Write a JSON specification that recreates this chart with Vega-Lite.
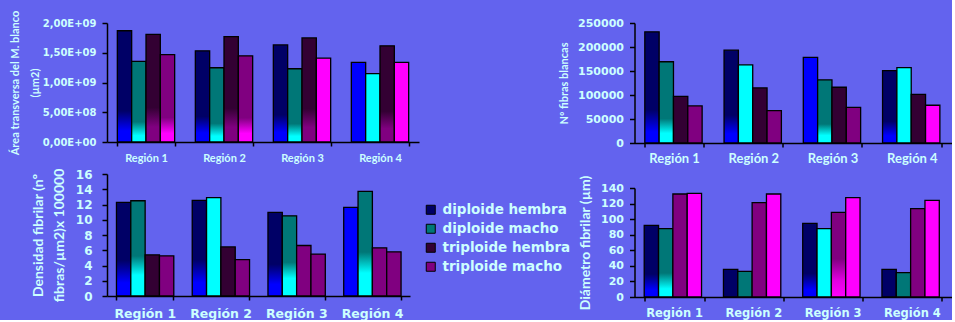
{
  "$schema": "https://vega.github.io/schema/vega-lite/v6.json",
  "background": "#6363EE",
  "padding": {"left": 9, "top": 10, "right": 0, "bottom": 0},
  "config": {
    "view": {"stroke": null},
    "font": "Lato",
    "axis": {"domainColor": "#000000", "domainWidth": 1.5, "tickColor": "#000000", "tickWidth": 1.5, "labelColor": "#CCFFFF", "titleColor": "#CCFFFF", "labelFontWeight": "bold", "titleFontWeight": "bold", "grid": false, "labelFont": "DejaVu Sans", "titleFont": "Lato"}
  },
  "datasets": {
    "area": [
      {"region": "Región 1", "serie": "diploide hembra", "valor": 1870000000},
      {"region": "Región 1", "serie": "diploide macho", "valor": 1356000000},
      {"region": "Región 1", "serie": "triploide hembra", "valor": 1808000000},
      {"region": "Región 1", "serie": "triploide macho", "valor": 1470000000},
      {"region": "Región 2", "serie": "diploide hembra", "valor": 1532000000},
      {"region": "Región 2", "serie": "diploide macho", "valor": 1248000000},
      {"region": "Región 2", "serie": "triploide hembra", "valor": 1772000000},
      {"region": "Región 2", "serie": "triploide macho", "valor": 1448000000},
      {"region": "Región 3", "serie": "diploide hembra", "valor": 1632000000},
      {"region": "Región 3", "serie": "diploide macho", "valor": 1231000000},
      {"region": "Región 3", "serie": "triploide hembra", "valor": 1749000000},
      {"region": "Región 3", "serie": "triploide macho", "valor": 1409000000},
      {"region": "Región 4", "serie": "diploide hembra", "valor": 1337000000},
      {"region": "Región 4", "serie": "diploide macho", "valor": 1148000000},
      {"region": "Región 4", "serie": "triploide hembra", "valor": 1616000000},
      {"region": "Región 4", "serie": "triploide macho", "valor": 1337000000}
    ],
    "fibras": [
      {"region": "Región 1", "serie": "diploide hembra", "valor": 231600},
      {"region": "Región 1", "serie": "diploide macho", "valor": 169300},
      {"region": "Región 1", "serie": "triploide hembra", "valor": 97000},
      {"region": "Región 1", "serie": "triploide macho", "valor": 77200},
      {"region": "Región 2", "serie": "diploide hembra", "valor": 193300},
      {"region": "Región 2", "serie": "diploide macho", "valor": 162900},
      {"region": "Región 2", "serie": "triploide hembra", "valor": 114700},
      {"region": "Región 2", "serie": "triploide macho", "valor": 67300},
      {"region": "Región 3", "serie": "diploide hembra", "valor": 178500},
      {"region": "Región 3", "serie": "diploide macho", "valor": 131700},
      {"region": "Región 3", "serie": "triploide hembra", "valor": 116100},
      {"region": "Región 3", "serie": "triploide macho", "valor": 74400},
      {"region": "Región 4", "serie": "diploide hembra", "valor": 150800},
      {"region": "Región 4", "serie": "diploide macho", "valor": 157200},
      {"region": "Región 4", "serie": "triploide hembra", "valor": 101300},
      {"region": "Región 4", "serie": "triploide macho", "valor": 78600}
    ],
    "densidad": [
      {"region": "Región 1", "serie": "diploide hembra", "valor": 12.27},
      {"region": "Región 1", "serie": "diploide macho", "valor": 12.49},
      {"region": "Región 1", "serie": "triploide hembra", "valor": 5.39},
      {"region": "Región 1", "serie": "triploide macho", "valor": 5.26},
      {"region": "Región 2", "serie": "diploide hembra", "valor": 12.54},
      {"region": "Región 2", "serie": "diploide macho", "valor": 12.89},
      {"region": "Región 2", "serie": "triploide hembra", "valor": 6.44},
      {"region": "Región 2", "serie": "triploide macho", "valor": 4.78},
      {"region": "Región 3", "serie": "diploide hembra", "valor": 10.96},
      {"region": "Región 3", "serie": "diploide macho", "valor": 10.52},
      {"region": "Región 3", "serie": "triploide hembra", "valor": 6.62},
      {"region": "Región 3", "serie": "triploide macho", "valor": 5.48},
      {"region": "Región 4", "serie": "diploide hembra", "valor": 11.62},
      {"region": "Región 4", "serie": "diploide macho", "valor": 13.72},
      {"region": "Región 4", "serie": "triploide hembra", "valor": 6.31},
      {"region": "Región 4", "serie": "triploide macho", "valor": 5.79}
    ],
    "diametro": [
      {"region": "Región 1", "serie": "diploide hembra", "valor": 92.0},
      {"region": "Región 1", "serie": "diploide macho", "valor": 87.8},
      {"region": "Región 1", "serie": "triploide hembra", "valor": 132.3},
      {"region": "Región 1", "serie": "triploide macho", "valor": 133.1},
      {"region": "Región 2", "serie": "diploide hembra", "valor": 35.5},
      {"region": "Región 2", "serie": "diploide macho", "valor": 33.0},
      {"region": "Región 2", "serie": "triploide hembra", "valor": 121.2},
      {"region": "Región 2", "serie": "triploide macho", "valor": 132.3},
      {"region": "Región 3", "serie": "diploide hembra", "valor": 94.6},
      {"region": "Región 3", "serie": "diploide macho", "valor": 87.8},
      {"region": "Región 3", "serie": "triploide hembra", "valor": 108.7},
      {"region": "Región 3", "serie": "triploide macho", "valor": 127.6},
      {"region": "Región 4", "serie": "diploide hembra", "valor": 35.5},
      {"region": "Región 4", "serie": "diploide macho", "valor": 31.3},
      {"region": "Región 4", "serie": "triploide hembra", "valor": 113.5},
      {"region": "Región 4", "serie": "triploide macho", "valor": 124.2}
    ]
  },
  "bounds": "flush",
  "spacing": 527.5,
  "hconcat": [
    {
      "bounds": "flush",
      "spacing": 32,
      "vconcat": [
        {
          "width": 312, "height": 119,
          "data": {"name": "area"},
          "mark": {"type": "bar", "stroke": "#000000", "strokeWidth": 1.3},
          "encoding": {
            "x": {"field": "region", "type": "nominal", "scale": {"paddingInner": 0.265, "paddingOuter": 0.1325}, "axis": {"title": null, "labelAngle": 0, "labelFont": "Lato", "labelFontSize": 11, "labelPadding": 6, "tickBand": "extent", "tickSize": 4}},
            "xOffset": {"field": "serie", "type": "nominal", "scale": {"domain": ["diploide hembra", "diploide macho", "triploide hembra", "triploide macho"], "paddingInner": 0, "paddingOuter": 0}},
            "y": {"field": "valor", "type": "quantitative", "scale": {"domain": [0, 2000000000], "nice": false}, "axis": {"values": [0, 500000000, 1000000000, 1500000000, 2000000000], "labelExpr": "replace(replace(format(datum.value, '.2e'), '.', ','), 'e+', 'E+0')", "title": ["Área transversa del M. blanco", "(µm2)"], "titleFontSize": 11, "titleLineHeight": 20, "titlePadding": 2, "labelFontSize": 10, "labelPadding": 6, "tickSize": 5}},
            "fill": {
              "condition": [
                {"test": "datum.serie=='diploide hembra'&&datum.region=='Región 4'", "value": "#0000FF"},
                {"test": "datum.serie=='diploide macho'&&datum.region=='Región 4'", "value": "#00FFFF"},
                {"test": "datum.serie=='triploide macho'&&(datum.region=='Región 3'||datum.region=='Región 4')", "value": "#FF00FF"},
                {"test": "datum.serie=='diploide hembra'", "value": {"gradient": "linear", "x1": 0, "y1": 0, "x2": 0, "y2": 1, "stops": [{"offset": 0, "color": "#000066"}, {"offset": 0.72, "color": "#000066"}, {"offset": 0.9, "color": "#0000FF"}, {"offset": 1, "color": "#0000FF"}]}},
                {"test": "datum.serie=='diploide macho'", "value": {"gradient": "linear", "x1": 0, "y1": 0, "x2": 0, "y2": 1, "stops": [{"offset": 0, "color": "#007777"}, {"offset": 0.75, "color": "#007777"}, {"offset": 0.92, "color": "#00FFFF"}, {"offset": 1, "color": "#00FFFF"}]}},
                {"test": "datum.serie=='triploide hembra'", "value": {"gradient": "linear", "x1": 0, "y1": 0, "x2": 0, "y2": 1, "stops": [{"offset": 0, "color": "#330033"}, {"offset": 0.68, "color": "#330033"}, {"offset": 0.86, "color": "#800080"}, {"offset": 1, "color": "#800080"}]}}
              ],
              "value": {"gradient": "linear", "x1": 0, "y1": 0, "x2": 0, "y2": 1, "stops": [{"offset": 0, "color": "#800080"}, {"offset": 0.72, "color": "#800080"}, {"offset": 0.9, "color": "#FF00FF"}, {"offset": 1, "color": "#FF00FF"}]}
            }
          }
        },
        {
          "width": 303, "height": 122,
          "data": {"name": "densidad"},
          "encoding": {
            "x": {"field": "region", "type": "nominal", "scale": {"paddingInner": 0.25, "paddingOuter": 0.125}, "axis": {"title": null, "labelAngle": 0, "labelFontSize": 12.5, "labelPadding": 7, "tickBand": "extent", "tickSize": 4}},
            "xOffset": {"field": "serie", "type": "nominal", "scale": {"domain": ["diploide hembra", "diploide macho", "triploide hembra", "triploide macho"], "paddingInner": 0, "paddingOuter": 0}},
            "y": {"field": "valor", "type": "quantitative", "scale": {"domain": [0, 16], "nice": false}, "axis": {"values": [0, 2, 4, 6, 8, 10, 12, 14, 16], "title": ["Densidad fibrilar (nº", "fibras/µm2)x 100000"], "titleFontSize": 14, "titleLineHeight": 21, "titlePadding": 9, "labelFontSize": 12, "labelPadding": 10, "tickSize": 5}}
          },
          "layer": [
            {
              "mark": {"type": "bar"},
              "encoding": {
                "color": {"field": "serie", "type": "nominal", "scale": {"domain": ["diploide hembra", "diploide macho", "triploide hembra", "triploide macho"], "range": ["#000066", "#007777", "#330033", "#800080"]}, "legend": {"title": null, "orient": "none", "legendX": 317, "legendY": 180, "symbolType": "square", "symbolSize": 81, "symbolStrokeColor": "#000000", "symbolStrokeWidth": 1, "symbolOpacity": 1, "labelFont": "DejaVu Sans", "labelFontSize": 13.5, "labelFontWeight": "bold", "labelColor": "#CCFFFF", "rowPadding": 4, "labelOffset": 5, "padding": 0, "labelLimit": 300}}
              }
            },
            {
              "mark": {"type": "bar", "stroke": "#000000", "strokeWidth": 1.3},
              "encoding": {
                "fill": {
                  "condition": [
                    {"test": "datum.serie=='diploide hembra'&&datum.region=='Región 4'", "value": "#0000FF"},
                    {"test": "datum.serie=='diploide macho'&&datum.region=='Región 2'", "value": "#00FFFF"},
                    {"test": "datum.serie=='triploide hembra'&&(datum.region=='Región 1'||datum.region=='Región 2')", "value": "#330033"},
                    {"test": "datum.serie=='triploide hembra'||datum.serie=='triploide macho'", "value": "#800080"},
                    {"test": "datum.serie=='diploide hembra'", "value": {"gradient": "linear", "x1": 0, "y1": 0, "x2": 0, "y2": 1, "stops": [{"offset": 0, "color": "#000066"}, {"offset": 0.62, "color": "#000066"}, {"offset": 0.86, "color": "#0000FF"}, {"offset": 1, "color": "#0000FF"}]}}
                  ],
                  "value": {"gradient": "linear", "x1": 0, "y1": 0, "x2": 0, "y2": 1, "stops": [{"offset": 0, "color": "#007777"}, {"offset": 0.58, "color": "#007777"}, {"offset": 0.78, "color": "#00FFFF"}, {"offset": 1, "color": "#00FFFF"}]}
                }
              }
            }
          ]
        }
      ]
    },
    {
      "bounds": "flush",
      "spacing": 45,
      "vconcat": [
        {
          "width": 317, "height": 120,
          "data": {"name": "fibras"},
          "mark": {"type": "bar", "stroke": "#000000", "strokeWidth": 1.3},
          "encoding": {
            "x": {"field": "region", "type": "nominal", "scale": {"paddingInner": 0.26, "paddingOuter": 0.13}, "axis": {"title": null, "labelAngle": 0, "labelFont": "Lato", "labelFontSize": 13, "labelPadding": 5, "tickBand": "extent", "tickSize": 4}},
            "xOffset": {"field": "serie", "type": "nominal", "scale": {"domain": ["diploide hembra", "diploide macho", "triploide hembra", "triploide macho"], "paddingInner": 0, "paddingOuter": 0}},
            "y": {"field": "valor", "type": "quantitative", "scale": {"domain": [0, 250000], "nice": false}, "axis": {"values": [0, 50000, 100000, 150000, 200000, 250000], "format": "d", "title": "Nº fibras blancas", "titleFontSize": 11, "titlePadding": 8, "labelFontSize": 11, "labelPadding": 6, "tickSize": 5}},
            "fill": {
              "condition": [
                {"test": "datum.serie=='diploide hembra'&&datum.region=='Región 3'", "value": "#0000FF"},
                {"test": "datum.serie=='diploide macho'&&(datum.region=='Región 2'||datum.region=='Región 4')", "value": "#00FFFF"},
                {"test": "datum.serie=='triploide hembra'", "value": "#330033"},
                {"test": "datum.serie=='triploide macho'&&datum.region=='Región 4'", "value": "#FF00FF"},
                {"test": "datum.serie=='triploide macho'", "value": "#800080"},
                {"test": "datum.serie=='diploide hembra'", "value": {"gradient": "linear", "x1": 0, "y1": 0, "x2": 0, "y2": 1, "stops": [{"offset": 0, "color": "#000066"}, {"offset": 0.7, "color": "#000066"}, {"offset": 0.9, "color": "#0000FF"}, {"offset": 1, "color": "#0000FF"}]}}
              ],
              "value": {"gradient": "linear", "x1": 0, "y1": 0, "x2": 0, "y2": 1, "stops": [{"offset": 0, "color": "#007777"}, {"offset": 0.7, "color": "#007777"}, {"offset": 0.88, "color": "#00FFFF"}, {"offset": 1, "color": "#00FFFF"}]}
            }
          }
        },
        {
          "width": 317, "height": 109,
          "data": {"name": "diametro"},
          "mark": {"type": "bar", "stroke": "#000000", "strokeWidth": 1.3},
          "encoding": {
            "x": {"field": "region", "type": "nominal", "scale": {"paddingInner": 0.245, "paddingOuter": 0.1225}, "axis": {"title": null, "labelAngle": 0, "labelFontSize": 11.5, "labelPadding": 6, "tickBand": "extent", "tickSize": 4}},
            "xOffset": {"field": "serie", "type": "nominal", "scale": {"domain": ["diploide hembra", "diploide macho", "triploide hembra", "triploide macho"], "paddingInner": 0, "paddingOuter": 0}},
            "y": {"field": "valor", "type": "quantitative", "scale": {"domain": [0, 140], "nice": false}, "axis": {"values": [0, 20, 40, 60, 80, 100, 120, 140], "title": "Diámetro fibrilar (µm)", "titleFontSize": 14, "titlePadding": 8, "labelFontSize": 11, "labelPadding": 6, "tickSize": 5}},
            "fill": {
              "condition": [
                {"test": "datum.serie=='diploide hembra'&&(datum.region=='Región 2'||datum.region=='Región 4')", "value": "#000066"},
                {"test": "datum.serie=='diploide macho'&&(datum.region=='Región 2'||datum.region=='Región 4')", "value": "#007777"},
                {"test": "datum.serie=='diploide macho'&&datum.region=='Región 3'", "value": "#00FFFF"},
                {"test": "datum.serie=='triploide hembra'&&datum.region=='Región 3'", "value": {"gradient": "linear", "x1": 0, "y1": 0, "x2": 0, "y2": 1, "stops": [{"offset": 0, "color": "#800080"}, {"offset": 0.55, "color": "#800080"}, {"offset": 0.8, "color": "#E000E0"}, {"offset": 1, "color": "#FF00FF"}]}},
                {"test": "datum.serie=='triploide hembra'", "value": "#800080"},
                {"test": "datum.serie=='triploide macho'", "value": "#FF00FF"},
                {"test": "datum.serie=='diploide hembra'", "value": {"gradient": "linear", "x1": 0, "y1": 0, "x2": 0, "y2": 1, "stops": [{"offset": 0, "color": "#000066"}, {"offset": 0.68, "color": "#000066"}, {"offset": 0.9, "color": "#0000FF"}, {"offset": 1, "color": "#0000FF"}]}}
              ],
              "value": {"gradient": "linear", "x1": 0, "y1": 0, "x2": 0, "y2": 1, "stops": [{"offset": 0, "color": "#007777"}, {"offset": 0.65, "color": "#007777"}, {"offset": 0.88, "color": "#00FFFF"}, {"offset": 1, "color": "#00FFFF"}]}
            }
          }
        }
      ]
    }
  ]
}
